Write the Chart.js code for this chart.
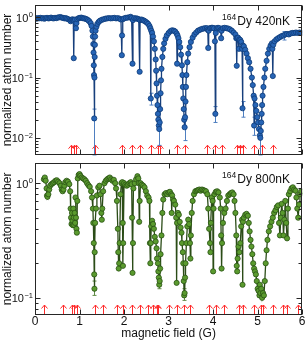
<!DOCTYPE html>
<html>
<head>
<meta charset="utf-8">
<script src="https://cdn.jsdelivr.net/npm/chart.js@4.4.1/dist/chart.umd.min.js"></script>
<style>
  html, body { margin: 0; padding: 0; background: #fff; }
  #wrap { position: relative; width: 307px; height: 342px; }
  #wrap canvas { position: absolute; left: 0; }
  #top { top: 0; }
  #bottom { top: 158px; }
</style>
</head>
<body>
<div id="wrap">
  <canvas id="top" width="307" height="160"></canvas>
  <canvas id="bottom" width="307" height="184"></canvas>
</div>
<script>
// magnetic field ticks (G)
const fieldTicks = [0, 1, 2, 3, 4, 5, 6];

// 164Dy at 420 nK : [field (G), normalized atom number]
const dy420 = [
  [0.00,0.97],[0.03,0.95],[0.06,0.97],[0.09,0.96],[0.12,0.98],[0.15,0.96],[0.18,0.97],[0.21,0.95],
  [0.24,0.97],[0.27,0.98],[0.30,0.96],[0.33,0.97],[0.36,0.99],[0.39,0.97],[0.42,0.96],[0.45,0.98],
  [0.48,0.97],[0.51,0.99],[0.54,1.00],[0.57,1.01],[0.60,0.99],[0.63,0.98],[0.66,0.96],[0.69,0.97],
  [0.72,0.95],[0.75,0.93],[0.78,0.90],[0.80,0.86],[0.82,0.90],[0.84,0.93],[0.86,0.90],[0.87,0.21],
  [0.88,0.88],[0.90,0.92],[0.92,0.66],[0.93,0.80],[0.95,0.93],[0.98,0.97],[1.01,0.98],[1.04,0.99],
  [1.07,0.97],[1.10,0.96],[1.13,0.95],[1.16,0.93],[1.19,0.90],[1.22,0.86],[1.25,0.80],[1.27,0.72],
  [1.29,0.60],[1.30,0.48],[1.31,0.36],[1.315,0.26],[1.32,0.16],[1.325,0.11],[1.33,0.021],[1.335,0.10],
  [1.34,0.22],[1.345,0.35],[1.35,0.48],[1.36,0.60],[1.38,0.70],[1.40,0.78],[1.43,0.84],[1.46,0.88],
  [1.50,0.91],[1.54,0.93],[1.58,0.95],[1.62,0.96],[1.66,0.97],[1.70,0.96],[1.74,0.97],[1.78,0.98],
  [1.82,0.96],[1.86,0.97],[1.90,0.95],[1.93,0.92],[1.95,0.235],[1.955,0.50],[1.97,0.93],[2.00,0.96],
  [2.04,0.98],[2.08,0.99],[2.12,1.00],[2.15,1.02],[2.17,0.97],[2.19,0.17],[2.20,0.90],[2.23,0.97],
  [2.27,0.96],[2.30,0.95],[2.33,0.93],[2.35,0.125],[2.36,0.90],[2.39,0.92],[2.42,0.90],[2.45,0.88],
  [2.48,0.85],[2.51,0.82],[2.54,0.78],[2.57,0.72],[2.59,0.66],[2.60,0.045],[2.61,0.60],[2.63,0.55],
  [2.65,0.48],[2.67,0.40],[2.69,0.30],[2.71,0.20],[2.72,0.13],[2.73,0.08],[2.74,0.05],[2.75,0.035],
  [2.76,0.025],[2.77,0.020],[2.78,0.016],[2.79,0.014],[2.80,0.018],[2.81,0.030],[2.82,0.055],[2.83,0.09],
  [2.84,0.14],[2.86,0.22],[2.88,0.30],[2.90,0.37],[2.93,0.44],[2.96,0.50],[3.00,0.55],[3.04,0.59],
  [3.08,0.61],[3.12,0.60],[3.15,0.58],[3.18,0.54],[3.19,0.17],[3.20,0.50],[3.22,0.45],[3.24,0.39],
  [3.26,0.32],[3.28,0.24],[3.30,0.16],[3.31,0.11],[3.32,0.07],[3.33,0.045],[3.34,0.030],[3.35,0.020],
  [3.36,0.015],[3.37,0.022],[3.38,0.040],[3.39,0.07],[3.40,0.11],[3.42,0.18],[3.44,0.25],[3.47,0.32],
  [3.50,0.39],[3.54,0.46],[3.58,0.52],[3.62,0.56],[3.66,0.60],[3.70,0.62],[3.74,0.64],[3.78,0.65],
  [3.82,0.66],[3.86,0.66],[3.88,0.62],[3.89,0.31],[3.90,0.60],[3.93,0.66],[3.96,0.67],[3.99,0.67],
  [4.02,0.66],[4.04,0.40],[4.05,0.025],[4.06,0.55],[4.08,0.66],[4.11,0.67],[4.14,0.66],[4.17,0.62],
  [4.18,0.45],[4.19,0.60],[4.22,0.66],[4.26,0.67],[4.30,0.66],[4.34,0.65],[4.38,0.63],[4.42,0.60],
  [4.46,0.56],[4.50,0.52],[4.52,0.45],[4.53,0.157],[4.54,0.45],[4.56,0.46],[4.58,0.30],[4.59,0.43],
  [4.61,0.42],[4.63,0.39],[4.65,0.30],[4.66,0.031],[4.67,0.34],[4.69,0.33],[4.72,0.29],[4.75,0.25],
  [4.78,0.21],[4.81,0.18],[4.84,0.14],[4.87,0.10],[4.89,0.075],[4.91,0.050],[4.92,0.016],[4.93,0.045],
  [4.95,0.035],[4.97,0.028],[4.99,0.022],[5.01,0.018],[5.03,0.014],[5.05,0.011],[5.06,0.010],[5.07,0.013],
  [5.08,0.018],[5.09,0.025],[5.10,0.035],[5.11,0.050],[5.13,0.07],[5.15,0.10],[5.17,0.14],[5.20,0.19],
  [5.23,0.25],[5.26,0.30],[5.29,0.34],[5.32,0.37],[5.33,0.30],[5.34,0.106],[5.35,0.35],[5.38,0.40],
  [5.42,0.43],[5.46,0.45],[5.50,0.47],[5.54,0.49],[5.58,0.50],[5.62,0.52],[5.66,0.53],[5.70,0.52],
  [5.74,0.54],[5.78,0.55],[5.82,0.55],[5.86,0.56],[5.90,0.55],[5.94,0.56],[5.98,0.55]
];
// error bars [field, low, high]
const err420 = [
  [1.33,0.0052,0.03],[2.79,0.0075,0.02],[3.36,0.009,0.02],[5.06,0.0052,0.014],
  [4.66,0.022,0.04],[4.05,0.018,0.033],[2.60,0.035,0.055],[4.92,0.011,0.022],[5.60,0.42,0.58]
];
const arrows420 = [0.81,0.87,0.93,1.34,1.96,2.18,2.36,2.61,2.76,2.81,3.19,3.36,3.87,4.05,4.19,4.54,4.60,4.66,4.92,5.09,5.34];

// 164Dy at 800 nK
const dy800 = [
  [0.20,1.08],[0.22,1.12],[0.24,1.05],[0.26,0.90],[0.27,0.78],[0.28,0.76],[0.30,0.80],[0.32,0.88],
  [0.34,0.95],[0.37,0.98],[0.40,1.00],[0.43,1.02],[0.46,1.05],[0.49,1.06],[0.52,1.03],[0.55,1.00],
  [0.58,0.95],[0.60,0.88],[0.62,0.85],[0.64,0.88],[0.66,0.95],[0.68,1.02],[0.71,1.05],[0.74,1.03],
  [0.77,0.98],[0.79,0.85],[0.80,0.60],[0.81,0.50],[0.82,0.44],[0.83,0.55],[0.84,0.47],[0.85,0.43],
  [0.86,0.60],[0.87,0.50],[0.88,0.43],[0.89,0.55],[0.90,0.45],[0.91,0.75],[0.92,0.50],[0.93,0.40],
  [0.94,0.37],[0.95,0.70],[0.96,1.10],[0.98,1.18],[1.00,1.20],[1.02,1.16],[1.05,1.12],[1.08,1.10],
  [1.11,1.08],[1.14,1.05],[1.17,1.00],[1.20,0.96],[1.23,0.93],[1.26,0.85],[1.28,0.75],[1.30,0.60],
  [1.31,0.45],[1.32,0.30],[1.33,0.16],[1.335,0.12],[1.34,0.25],[1.35,0.45],[1.37,0.60],[1.39,0.78],
  [1.42,0.92],[1.45,0.95],[1.47,0.80],[1.49,0.55],[1.50,0.48],[1.51,0.60],[1.53,0.85],[1.56,1.00],
  [1.59,1.05],[1.62,1.08],[1.65,1.10],[1.68,1.12],[1.71,1.08],[1.74,1.05],[1.77,1.07],[1.80,1.00],
  [1.82,0.90],[1.84,0.70],[1.86,0.40],[1.87,0.25],[1.88,0.18],[1.89,0.20],[1.90,0.30],[1.92,0.80],
  [1.94,1.00],[1.96,1.02],[1.97,0.45],[1.975,0.19],[1.98,0.30],[2.00,1.00],[2.03,0.97],[2.06,0.95],
  [2.09,0.97],[2.12,1.00],[2.15,1.02],[2.17,0.98],[2.18,0.50],[2.19,0.165],[2.20,0.30],[2.21,0.90],
  [2.24,1.00],[2.27,1.08],[2.30,1.15],[2.32,1.10],[2.33,1.00],[2.34,0.46],[2.35,0.70],[2.37,1.00],
  [2.40,0.97],[2.43,0.95],[2.46,0.92],[2.49,0.85],[2.52,0.78],[2.55,0.75],[2.57,0.70],[2.58,0.30],
  [2.59,0.20],[2.60,0.30],[2.61,0.42],[2.63,0.47],[2.65,0.44],[2.67,0.40],[2.69,0.34],[2.71,0.31],
  [2.73,0.27],[2.74,0.22],[2.76,0.20],[2.77,0.17],[2.78,0.15],[2.79,0.13],[2.80,0.14],[2.81,0.18],
  [2.82,0.24],[2.84,0.35],[2.86,0.55],[2.88,0.72],[2.91,0.80],[2.94,0.82],[2.97,0.80],[3.00,0.83],
  [3.03,0.84],[3.06,0.80],[3.07,0.55],[3.08,0.78],[3.10,0.72],[3.12,0.70],[3.15,0.65],[3.17,0.50],
  [3.18,0.135],[3.19,0.45],[3.21,0.55],[3.23,0.53],[3.25,0.46],[3.27,0.41],[3.29,0.37],[3.30,0.30],
  [3.32,0.25],[3.33,0.20],[3.34,0.14],[3.35,0.105],[3.36,0.11],[3.37,0.15],[3.38,0.20],[3.40,0.30],
  [3.42,0.42],[3.44,0.48],[3.46,0.44],[3.48,0.30],[3.49,0.22],[3.50,0.35],[3.52,0.55],[3.54,0.70],
  [3.57,0.80],[3.60,0.85],[3.63,0.86],[3.66,0.87],[3.69,0.88],[3.72,0.86],[3.75,0.88],[3.78,0.87],
  [3.81,0.86],[3.84,0.85],[3.87,0.80],[3.89,0.60],[3.91,0.40],[3.93,0.30],[3.94,0.25],[3.95,0.45],
  [3.97,0.75],[3.99,0.70],[4.00,0.17],[4.01,0.60],[4.03,0.80],[4.06,0.84],[4.09,0.85],[4.12,0.83],
  [4.15,0.75],[4.17,0.60],[4.18,0.35],[4.19,0.18],[4.20,0.30],[4.22,0.45],[4.25,0.55],[4.28,0.60],
  [4.31,0.70],[4.34,0.78],[4.37,0.80],[4.40,0.82],[4.43,0.83],[4.46,0.80],[4.48,0.70],[4.50,0.55],
  [4.52,0.35],[4.53,0.19],[4.54,0.17],[4.55,0.22],[4.57,0.28],[4.59,0.25],[4.61,0.30],[4.63,0.42],
  [4.65,0.48],[4.66,0.13],[4.67,0.46],[4.69,0.50],[4.72,0.53],[4.75,0.54],[4.78,0.52],[4.80,0.45],
  [4.82,0.38],[4.84,0.32],[4.86,0.28],[4.88,0.24],[4.90,0.20],[4.92,0.18],[4.94,0.17],[4.96,0.16],
  [4.98,0.14],[5.00,0.12],[5.02,0.115],[5.04,0.105],[5.05,0.13],[5.06,0.11],[5.08,0.12],[5.10,0.10],
  [5.12,0.11],[5.14,0.105],[5.16,0.14],[5.18,0.20],[5.20,0.26],[5.22,0.32],[5.25,0.38],[5.28,0.42],
  [5.31,0.46],[5.34,0.50],[5.37,0.55],[5.40,0.58],[5.43,0.62],[5.46,0.64],[5.48,0.45],[5.50,0.35],
  [5.52,0.50],[5.54,0.66],[5.56,0.55],[5.58,0.35],[5.60,0.48],[5.62,0.70],[5.64,0.45],[5.66,0.33],
  [5.68,0.60],[5.70,0.80],[5.73,0.85],[5.76,0.90],[5.79,0.92],[5.82,0.88],[5.85,0.86],[5.87,0.75],
  [5.89,0.60],[5.91,0.50],[5.93,0.65],[5.95,0.80],[5.98,0.85]
];
const err800 = [[1.335,0.105,0.14],[3.35,0.095,0.12],[2.79,0.12,0.15]];
const arrows800 = [0.21,0.63,0.82,0.88,0.94,1.34,1.52,1.85,1.97,2.17,2.36,2.53,2.64,2.73,2.77,3.02,3.18,3.34,3.49,3.90,4.06,4.24,4.57,4.66,4.91,5.07,5.12,5.34,5.58,5.66,5.91];

const FONT = '"Liberation Sans", Arial, sans-serif';

function hline(ctx, x1, y1, x2, y2) {
  ctx.beginPath(); ctx.moveTo(x1, y1); ctx.lineTo(x2, y2); ctx.stroke();
}

const panelPlugin = {
  id: 'panel',
  beforeDatasetsDraw(chart, args, o) {
    const {ctx, chartArea: a, scales: {x, y}} = chart;
    ctx.save();
    // resonance arrows
    ctx.strokeStyle = '#ff2b2b';
    ctx.lineWidth = 1;
    const base = a.bottom - 1, tip = a.bottom - 10;
    for (const f of o.arrows) {
      const px = Math.round(x.getPixelForValue(f)) + 0.5;
      hline(ctx, px, base, px, tip);
      ctx.beginPath();
      ctx.moveTo(px - 3, tip + 3.5); ctx.lineTo(px, tip); ctx.lineTo(px + 3, tip + 3.5);
      ctx.stroke();
    }
    // error bars
    ctx.strokeStyle = o.errColor;
    for (const [f, lo, hi] of o.errors) {
      const px = Math.round(x.getPixelForValue(f)) + 0.5;
      const y1 = y.getPixelForValue(lo), y2 = y.getPixelForValue(hi);
      hline(ctx, px, y1, px, y2);
      hline(ctx, px - 2, y1, px + 2, y1);
      hline(ctx, px - 2, y2, px + 2, y2);
    }
    ctx.restore();
  },
  afterDraw(chart, args, o) {
    const {ctx, chartArea: a, scales: {x, y}} = chart;
    ctx.save();
    ctx.strokeStyle = '#262626';
    ctx.lineWidth = 1;
    const L = Math.round(a.left) + 0.5, R = Math.round(a.right) - 0.5;
    const T = Math.round(a.top) + 0.5, B = Math.round(a.bottom) - 0.5;
    ctx.strokeRect(L, T, R - L, B - T);
    // x ticks, inward on both edges
    for (const v of fieldTicks) {
      const px = Math.round(x.getPixelForValue(v)) + 0.5;
      hline(ctx, px, B, px, B - 5);
      hline(ctx, px, T, px, T + 5);
    }
    // log ticks, inward on both edges
    for (let d = -3; d <= 0; d++) {
      for (let m = 1; m <= 9; m++) {
        const v = m * Math.pow(10, d);
        if (v < y.min || v > y.max) continue;
        const py = Math.round(y.getPixelForValue(v)) + 0.5;
        const len = m === 1 ? 5 : 3;
        hline(ctx, L, py, L + len, py);
        hline(ctx, R, py, R - len, py);
      }
    }
    // y tick labels 10^n
    ctx.fillStyle = '#111';
    ctx.textBaseline = 'alphabetic';
    for (const v of o.yTicks) {
      const py = y.getPixelForValue(v);
      const e = Math.round(Math.log10(v));
      const es = e === 0 ? '0' : '\u2212' + Math.abs(e);
      ctx.font = '7.5px ' + FONT;
      const ew = ctx.measureText(es).width;
      ctx.textAlign = 'left';
      const ex = a.left - 2 - ew;
      ctx.fillText(es, ex, py);
      ctx.font = '11px ' + FONT;
      ctx.textAlign = 'right';
      ctx.fillText('10', ex - 0.5, py + 4.5);
    }
    // y title
    ctx.save();
    ctx.translate(8, (a.top + a.bottom) / 2);
    ctx.rotate(-Math.PI / 2);
    ctx.font = '12px ' + FONT;
    ctx.textAlign = 'center';
    ctx.textBaseline = 'middle';
    ctx.fillText('normalized atom number', 0, 0);
    ctx.restore();
    // panel label
    ctx.textAlign = 'right';
    ctx.font = '12px ' + FONT;
    const lx = 290, ly = a.top + 20;
    ctx.fillText(o.label, lx, ly);
    const lw = ctx.measureText(o.label).width;
    ctx.font = '8.5px ' + FONT;
    ctx.fillText('164', lx - lw - 1, ly - 5);
    // x axis labels (bottom panel only)
    if (o.xLabels) {
      ctx.font = '12px ' + FONT;
      ctx.textAlign = 'center';
      ctx.textBaseline = 'middle';
      for (const v of fieldTicks) ctx.fillText(String(v), x.getPixelForValue(v), a.bottom + 7);
      ctx.fillText('magnetic field (G)', (a.left + a.right) / 2, a.bottom + 19);
    }
    ctx.restore();
  }
};

function makePanel(id, pts, fill, edge, lineCol, yMin, yMax, pad, opts) {
  return new Chart(document.getElementById(id), {
    type: 'line',
    data: {
      datasets: [{
        data: pts.map(p => ({x: p[0], y: p[1]})),
        borderColor: lineCol,
        borderWidth: 1.3,
        backgroundColor: fill,
        pointBackgroundColor: fill,
        pointBorderColor: edge,
        pointBorderWidth: 0.8,
        pointRadius: 2.6,
        tension: 0
      }]
    },
    options: {
      responsive: false,
      devicePixelRatio: 1,
      animation: false,
      layout: { padding: pad },
      plugins: { legend: { display: false }, tooltip: { enabled: false }, panel: opts },
      scales: {
        x: {
          type: 'linear', min: 0, max: 6,
          grid: { display: false }, border: { display: false },
          ticks: { display: false },
          afterFit: s => { s.height = 0; }
        },
        y: {
          type: 'logarithmic', min: yMin, max: yMax,
          grid: { display: false }, border: { display: false },
          ticks: { display: false },
          afterFit: s => { s.width = 0; }
        }
      }
    },
    plugins: [panelPlugin]
  });
}

makePanel('top', dy420, '#2765b6', '#0e3b78', '#173f7c', 0.00515, 1.614,
  { left: 35, right: 4, top: 2, bottom: 2 },
  { arrows: arrows420, errors: err420, errColor: '#4f7fc0', yTicks: [1, 0.1, 0.01], label: 'Dy 420nK', xLabels: false });

makePanel('bottom', dy800, '#5a9a2e', '#2a5314', '#2b4c17', 0.0708, 1.505,
  { left: 35, right: 4, top: 0, bottom: 27 },
  { arrows: arrows800, errors: err800, errColor: '#5f8a45', yTicks: [1, 0.1], label: 'Dy 800nK', xLabels: true });
</script>
</body>
</html>
